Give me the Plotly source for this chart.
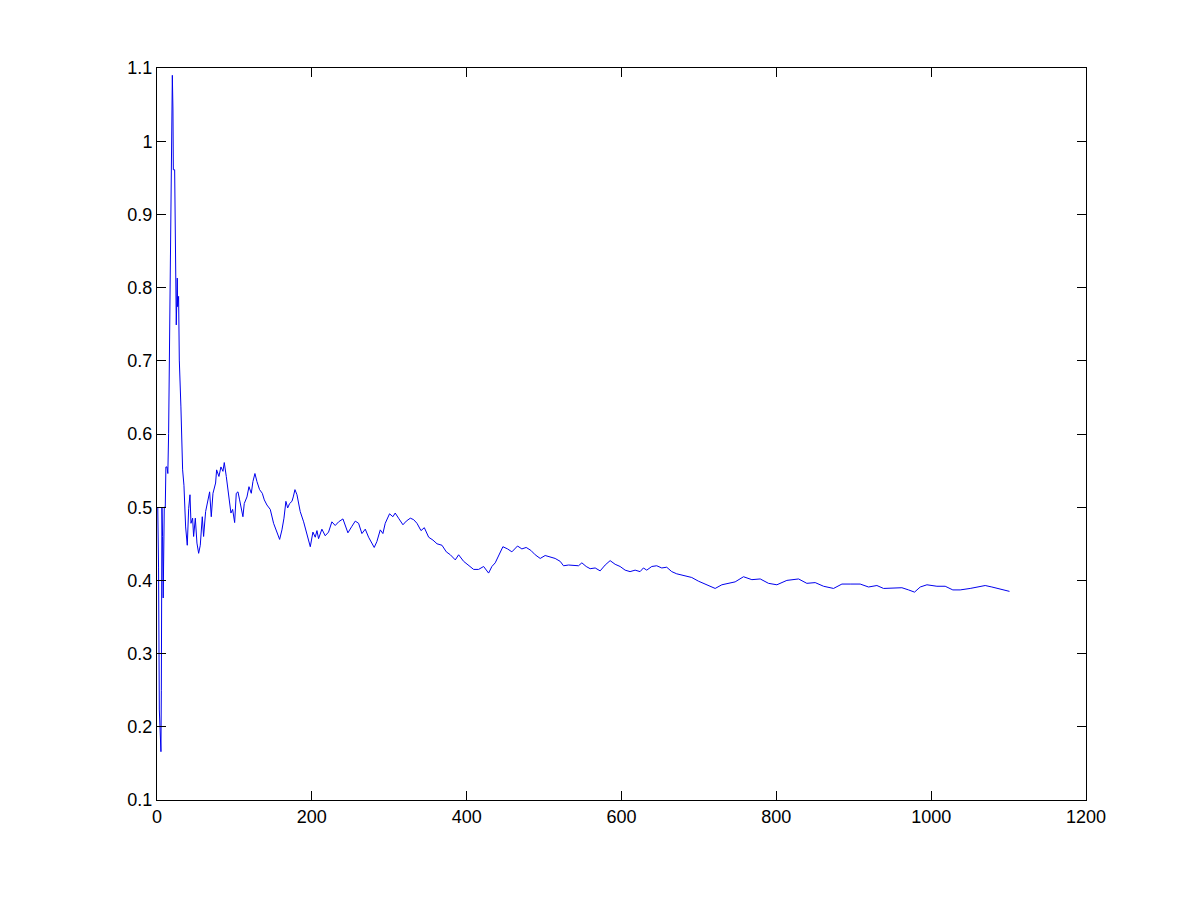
import plotly.graph_objects as go

# valores (iteración, estimación)
x_vals = [1, 2, 3, 4, 5.1, 5.6, 6.4, 7.2, 8, 9.4, 10.7, 11.5, 12.9, 14, 15, 15.9,
          16.3, 17.6, 18.9, 19.8, 20.6, 21.1, 22.8, 23.6, 24.9, 26.2, 26.6, 27.9, 28.8,
          30.9, 33.1, 34.8, 37, 39.1, 40.9, 42.6, 43.9, 46, 47.3, 49.5, 51.6, 53.8, 55.9,
          58.5, 60.2, 62.8, 65.8, 68, 70.1, 72.3, 75.7, 77, 80, 82.6, 85.2, 86.9, 89.5,
          92.9, 95.5, 97.7, 100.3, 102.4, 104.6, 106.7, 108.9, 111, 112.7, 116.2, 118.8,
          121.8, 123.9, 126.5, 129.1, 132.5, 136, 138.6, 142, 146.3, 150.6, 155, 158.4,
          161.4, 164, 166.5, 168.8, 171.3, 174.3, 176, 178.2, 180.8, 185, 189.4, 193.7,
          198, 201.4, 204.4, 206.6, 208.7, 213, 217.3, 221.6, 225.9, 230.2, 234.6, 240.2,
          246.6, 251.8, 256.1, 260.4, 264.7, 269, 273.3, 280.6, 284, 288.4, 291.8, 294.8,
          300.4, 304.7, 307.7, 312, 317.7, 322, 327.2, 331.5, 335.8, 341, 345.3, 350.9,
          356.5, 361.7, 368.1, 373.7, 378.9, 385.3, 389.6, 396.1, 402.5, 409, 415.4,
          421.9, 428.3, 432.6, 436.9, 441.3, 446.8, 452.8, 458.4, 465.7, 471.3, 476.9,
          482.9, 488.5, 495, 501.4, 507.9, 514.3, 520.8, 525.1, 531.6, 538, 544.5, 548.8,
          554.4, 559.5, 566, 572.4, 578.9, 585.3, 591.8, 598.2, 604.7, 611.1, 617.6, 624,
          628.3, 632.6, 639.1, 645.5, 652, 658.4, 664.9, 671.3, 677.8, 684.2, 690.7,
          699.3, 710.2, 721, 729.6, 738.2, 746.8, 757.6, 768.4, 779.2, 789.9, 800.7,
          813.6, 828.7, 839.4, 850.2, 861, 873.9, 884.7, 895.4, 908.3, 919.1, 929.9,
          938.5, 951.4, 962.2, 970.8, 978.5, 985.9, 994.5, 1007.4, 1018.1, 1028, 1037.5,
          1050.4, 1061.2, 1069.8, 1078.4, 1087, 1095.6, 1101.2]
y_vals = [0.50, 0.417, 0.223, 0.182, 0.166, 0.25, 0.50, 0.46, 0.376, 0.50, 0.50, 0.555,
          0.555, 0.546, 0.601, 0.678,
          0.772, 0.863, 0.954, 1.09, 1.044, 0.961, 0.961, 0.888, 0.749, 0.813, 0.774,
          0.788, 0.701,
          0.637, 0.551, 0.530, 0.473, 0.448, 0.498, 0.517, 0.478, 0.485, 0.46, 0.485,
          0.451, 0.437, 0.448, 0.487, 0.46, 0.494, 0.51, 0.521, 0.487, 0.519, 0.533,
          0.551, 0.542, 0.555, 0.549, 0.561, 0.542, 0.51, 0.492, 0.497, 0.479, 0.519,
          0.521, 0.51, 0.497, 0.487, 0.505, 0.514, 0.528, 0.519, 0.535, 0.546, 0.535,
          0.524, 0.519, 0.51, 0.503, 0.497, 0.478, 0.464, 0.456, 0.469, 0.485, 0.508,
          0.499, 0.505, 0.508, 0.514, 0.524, 0.517, 0.494, 0.48, 0.464,
          0.446, 0.466, 0.459, 0.468, 0.457, 0.470, 0.461, 0.466, 0.480, 0.475, 0.480,
          0.484, 0.465, 0.474, 0.481, 0.478, 0.464, 0.470, 0.459, 0.445, 0.453, 0.469,
          0.464, 0.478, 0.491, 0.487, 0.492, 0.485, 0.476, 0.481, 0.485, 0.483, 0.478,
          0.468, 0.472, 0.459, 0.455, 0.450, 0.448, 0.439, 0.435, 0.428, 0.435, 0.426,
          0.421, 0.415, 0.415, 0.419, 0.410, 0.419, 0.424, 0.433, 0.446, 0.443, 0.439,
          0.447, 0.443, 0.445, 0.441, 0.435, 0.430, 0.434, 0.432, 0.430, 0.426, 0.420,
          0.421, 0.421, 0.420, 0.424, 0.419, 0.416, 0.417, 0.413, 0.421, 0.427, 0.422,
          0.419, 0.414, 0.412, 0.414, 0.412, 0.417, 0.414, 0.419, 0.420, 0.417, 0.418,
          0.412, 0.409, 0.407, 0.406, 0.404, 0.399, 0.394, 0.389, 0.394, 0.396, 0.398,
          0.405, 0.401, 0.402, 0.396, 0.394, 0.400, 0.402, 0.396, 0.397, 0.392, 0.389,
          0.395, 0.395, 0.395, 0.391, 0.393, 0.389, 0.389, 0.390, 0.387, 0.384, 0.391,
          0.394, 0.392, 0.392, 0.387, 0.387, 0.389, 0.391, 0.393, 0.391, 0.389, 0.387,
          0.385]

x_ticks = [0, 200, 400, 600, 800, 1000, 1200]
y_ticks = [0.1, 0.2, 0.3, 0.4, 0.5, 0.6, 0.7, 0.8, 0.9, 1, 1.1]

fig = go.Figure()
fig.add_trace(go.Scatter(
    x=x_vals, y=y_vals, mode="lines",
    line=dict(color="#0000ee", width=1),
    showlegend=False
))

# Ejes tipo MATLAB: caja completa, marcas hacia dentro
eje = dict(
    showgrid=False, zeroline=False, showline=True, linecolor="black",
    linewidth=1, mirror="ticks", ticks="inside", ticklen=9, tickcolor="black",
    tickfont=dict(family="Liberation Sans, Arial", size=18, color="black")
)
fig.update_xaxes(range=[0, 1200], tickvals=x_ticks, **eje)
fig.update_yaxes(range=[0.1, 1.1], tickvals=y_ticks,
                 ticktext=[str(v) for v in y_ticks], **eje)

# la página añade 8 px de margen, se compensa aquí
fig.update_layout(
    width=1201, height=900,
    margin=dict(l=149, r=123, t=60, b=108),
    plot_bgcolor="white", paper_bgcolor="white"
)

fig.write_html("out.html")
